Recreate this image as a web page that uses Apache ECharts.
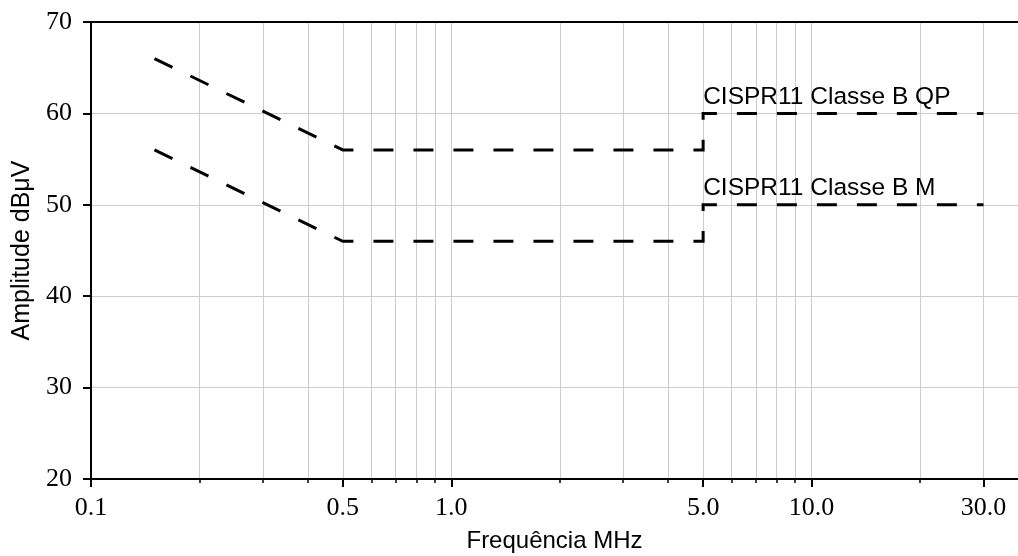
<!DOCTYPE html>
<html>
<head>
<meta charset="utf-8">
<script src="https://cdn.jsdelivr.net/npm/echarts@6/dist/echarts.min.js"></script>
<style>
    html, body { margin: 0; padding: 0; background: #fff; }
    #chart { width: 1018px; height: 556px; }
</style>
</head>
<body>
<div id="chart"></div>
<script>
// limit lines (frequency in MHz, amplitude in dBuV)
const freqs = [0.15, 0.5, 5, 5, 30];
const qpLimit = [66, 56, 56, 60, 60];
const avgLimit = [56, 46, 46, 50, 50];
const seriesNames = ['CISPR11 Classe B QP', 'CISPR11 Classe B M'];
const labelFreq = 5;

// axis ticks
const majorTicks = [0.1, 0.5, 1, 5, 10, 30];
const minorTicks = [0.1, 0.2, 0.3, 0.4, 0.5, 0.6, 0.7, 0.8, 0.9, 1, 2, 3, 4, 5, 6, 7, 8, 9, 10, 20, 30];

const serif = 'Liberation Serif';
const sans = 'Liberation Sans';

document.addEventListener('DOMContentLoaded', function() {

    const chart = echarts.init(document.getElementById('chart'));

    const baseX = {
        type: 'log',
        logBase: 10,
        min: 0.1,
        max: 37.4,
        gridIndex: 0
    };

    const limitSeries = (name, values) => ({
        name: name,
        type: 'line',
        showSymbol: false,
        symbol: 'none',
        silent: true,
        lineStyle: {color: '#000', width: 3, type: [20, 20], cap: 'butt', join: 'miter'},
        data: freqs.map((f, i) => [f, values[i]]),
        markPoint: {
            symbol: 'circle',
            symbolSize: 0,
            silent: true,
            label: {
                show: true,
                position: [0, -4],
                align: 'left',
                verticalAlign: 'bottom',
                color: '#000',
                fontFamily: sans,
                fontSize: 24.5,
                formatter: name
            },
            data: [{coord: [labelFreq, values[values.length - 1]]}]
        }
    });

    chart.setOption({
        animation: false,
        grid: {
            left: 91,
            right: 0,
            top: 22,
            bottom: 77,
            containLabel: false,
            outerBoundsMode: 'none'
        },
        xAxis: [
            Object.assign({}, baseX, {
                position: 'bottom',
                name: 'Frequência MHz',
                nameLocation: 'middle',
                nameGap: 50,
                nameTextStyle: {color: '#000', fontFamily: sans, fontSize: 24},
                axisLine: {lineStyle: {color: '#000', width: 2}},
                axisTick: {customValues: majorTicks, length: 8, lineStyle: {color: '#000', width: 2}},
                axisLabel: {
                    customValues: majorTicks,
                    margin: 16,
                    color: '#000',
                    fontFamily: serif,
                    fontSize: 26,
                    formatter: v => Number(v).toFixed(1)
                },
                splitLine: {show: false}
            }),
            Object.assign({}, baseX, {
                position: 'bottom',
                axisLine: {show: false},
                axisTick: {customValues: minorTicks, length: 4, lineStyle: {color: '#000', width: 1.5}},
                axisLabel: {show: false},
                splitLine: {show: true, lineStyle: {color: '#cccccc', width: 1}}
            }),
            Object.assign({}, baseX, {
                position: 'top',
                axisLine: {lineStyle: {color: '#000', width: 2}},
                axisTick: {show: false},
                axisLabel: {show: false},
                splitLine: {show: false}
            })
        ],
        yAxis: {
            type: 'value',
            min: 20,
            max: 70,
            interval: 10,
            name: 'Amplitude dBμV',
            nameLocation: 'middle',
            nameGap: 53,
            nameTextStyle: {color: '#000', fontFamily: sans, fontSize: 25},
            axisLine: {show: true, lineStyle: {color: '#000', width: 2}},
            axisTick: {show: true, length: 8, lineStyle: {color: '#000', width: 2}},
            axisLabel: {margin: 19, color: '#000', fontFamily: serif, fontSize: 26},
            splitLine: {show: true, lineStyle: {color: '#cccccc', width: 1}}
        },
        series: [
            limitSeries(seriesNames[0], qpLimit),
            limitSeries(seriesNames[1], avgLimit)
        ]
    });

});
</script>
</body>
</html>
